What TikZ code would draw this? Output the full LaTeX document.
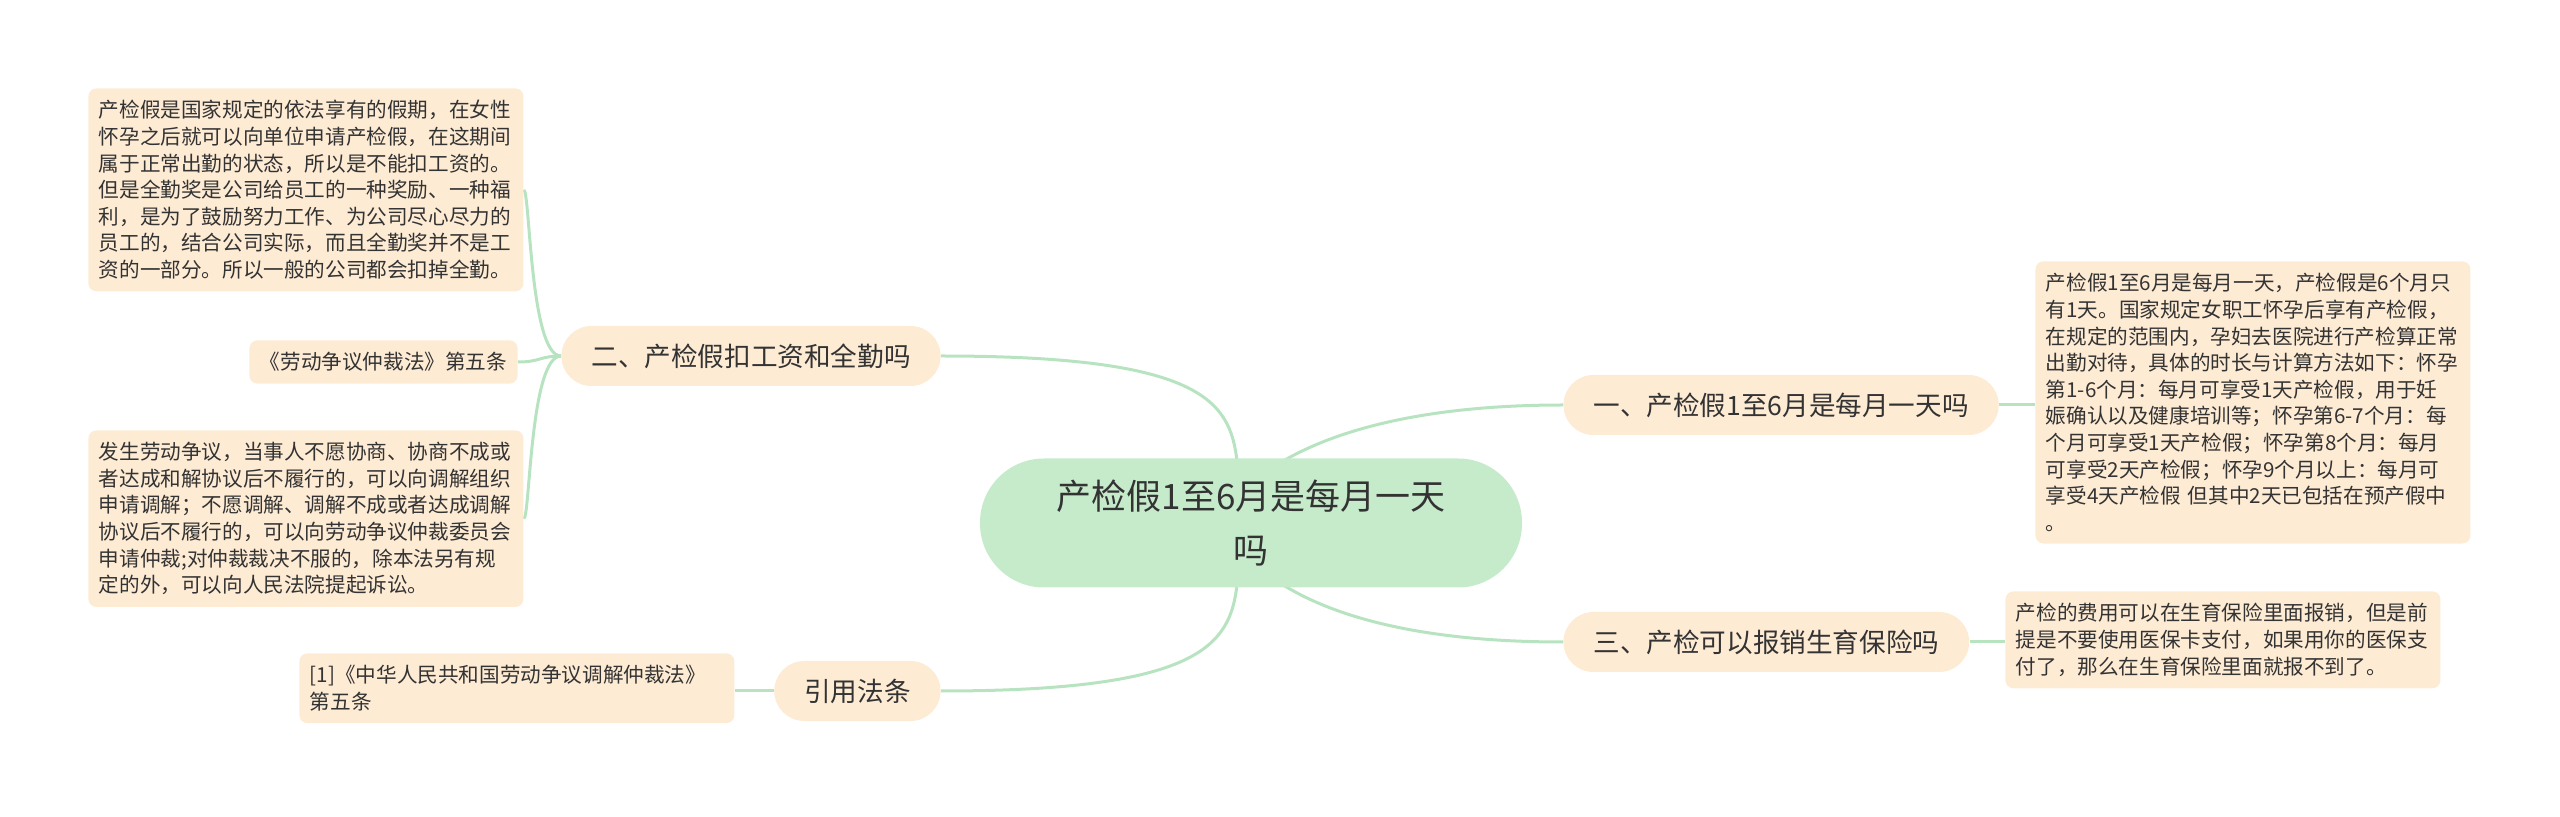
\documentclass[tikz,border=0pt]{standalone}
\usepackage{fontspec}
\setmainfont{Noto Sans CJK SC}
\usetikzlibrary{backgrounds,calc}
\definecolor{peach}{HTML}{FDEBD4}
\definecolor{rootg}{HTML}{C6EBCB}
\definecolor{linkg}{HTML}{B7E3C0}
\definecolor{txt}{HTML}{333333}
\begin{document}
\begin{tikzpicture}[x=0.5pt,y=-0.5pt,
  leaf/.style={fill=peach, rounded corners=4pt, inner xsep=5.25pt, inner ysep=6pt, align=left, text width=207pt, font=\fontsize{10.3}{13.3}\selectfont, text=txt, anchor=north west},
  leafone/.style={fill=peach, rounded corners=4pt, inner xsep=5.25pt, inner ysep=6pt, font=\fontsize{10.3}{13.3}\selectfont, text=txt},
  branch/.style={fill=peach, rounded corners=15pt, minimum height=30pt, inner xsep=15pt, inner ysep=0pt, font=\fontsize{13.3}{16}\selectfont, text=txt},
  root/.style={fill=rootg, rounded corners=32pt, minimum width=271pt, minimum height=64.5pt, align=center, font=\fontsize{17.5}{27}\selectfont, text=txt},
  link/.style={draw=linkg, line width=1.5pt}
]
\useasboundingbox (0,0) rectangle (2560,817);

\node[root] (c) at (1251,523) {产检假1至6月是每月一天\\吗};
\node[branch, anchor=west] (b1) at (1563,405) {一、产检假1至6月是每月一天吗};
\node[branch, anchor=west] (b3) at (1563,642) {三、产检可以报销生育保险吗};
\node[branch, anchor=east] (b2) at (941,356) {二、产检假扣工资和全勤吗};
\node[branch, anchor=east] (b4) at (941,691) {引用法条};

\node[leaf] (l1) at (88,88) {产检假是国家规定的依法享有的假期，在女性\\怀孕之后就可以向单位申请产检假，在这期间\\属于正常出勤的状态，所以是不能扣工资的。\\但是全勤奖是公司给员工的一种奖励、一种福\\利，是为了鼓励努力工作、为公司尽心尽力的\\员工的，结合公司实际，而且全勤奖并不是工\\资的一部分。所以一般的公司都会扣掉全勤。};
\node[leafone, anchor=east] (l2) at (518,362) {《劳动争议仲裁法》第五条};
\node[leaf] (l3) at (88,430) {发生劳动争议，当事人不愿协商、协商不成或\\者达成和解协议后不履行的，可以向调解组织\\申请调解；不愿调解、调解不成或者达成调解\\协议后不履行的，可以向劳动争议仲裁委员会\\申请仲裁;对仲裁裁决不服的，除本法另有规\\定的外，可以向人民法院提起诉讼。};
\node[leaf] (l4) at (299,653) {[1]《中华人民共和国劳动争议调解仲裁法》\\第五条};
\node[leaf] (r1) at (2035,261) {产检假1至6月是每月一天，产检假是6个月只\\有1天。国家规定女职工怀孕后享有产检假，\\在规定的范围内，孕妇去医院进行产检算正常\\出勤对待，具体的时长与计算方法如下：怀孕\\第1-6个月：每月可享受1天产检假，用于妊\\娠确认以及健康培训等；怀孕第6-7个月：每\\个月可享受1天产检假；怀孕第8个月：每月\\可享受2天产检假；怀孕9个月以上：每月可\\享受4天产检假 但其中2天已包括在预产假中\\。};
\node[leaf] (r3) at (2005,591) {产检的费用可以在生育保险里面报销，但是前\\提是不要使用医保卡支付，如果用你的医保支\\付了，那么在生育保险里面就报不到了。};

\begin{scope}[on background layer]
\draw[link] ($(c.north)+(32,3)$) .. controls (1340,428) and (1430,405) .. (b1.west);
\draw[link] ($(c.south)+(32,-3)$) .. controls (1340,620) and (1430,642) .. (b3.west);
\draw[link] ($(c.north)+(-14,3)$) .. controls (1230,400) and (1200,356) .. (b2.east);
\draw[link] ($(c.south)+(-14,-3)$) .. controls (1230,645) and (1200,691) .. (b4.east);
\draw[link] (b1.east) -- (b1.east -| r1.west);
\draw[link] (b3.east) -- (b3.east -| r3.west);
\draw[link] (b4.west) -- (b4.west -| l4.east);
\draw[link] (b2.west) .. controls (530,356) and (530,191) .. (l1.east);
\draw[link] (b2.west) .. controls (530,356) and (530,518) .. (l3.east);
\draw[link] (b2.west) .. controls (540,356) and (540,362) .. (l2.east);
\end{scope}
\end{tikzpicture}
\end{document}
